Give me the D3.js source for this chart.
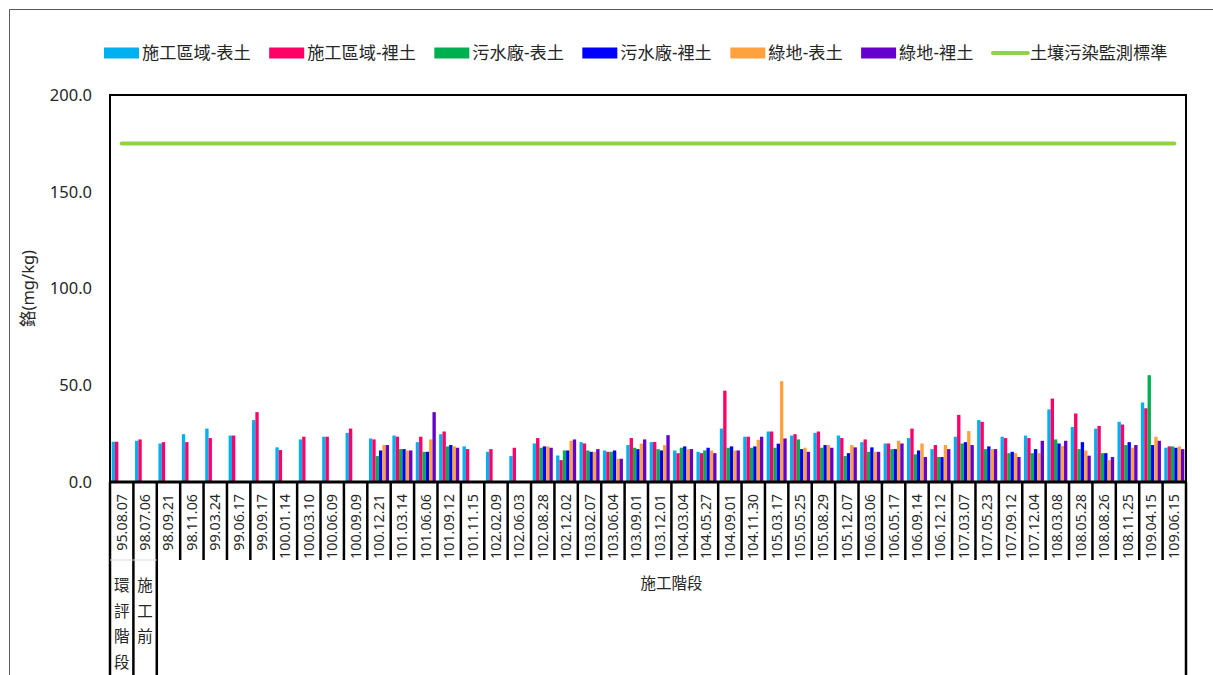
<!DOCTYPE html>
<html>
<head>
<meta charset="utf-8">
<script src="https://cdn.jsdelivr.net/npm/d3@7"></script>
<style>
body{margin:0;background:#fff;}
text{font-family:"Noto Sans","Noto Sans CJK TC",sans-serif;fill:#262626;}
</style>
</head>
<body>
<div id="canva"></div>
<script>
// sample dates (ROC calendar)
var dates = ["95.08.07","98.07.06","98.09.21","98.11.06","99.03.24","99.06.17","99.09.17","100.01.14",
  "100.03.10","100.06.09","100.09.09","100.12.21","101.03.14","101.06.06","101.09.12","101.11.15",
  "102.02.09","102.06.03","102.08.28","102.12.02","103.02.07","103.06.04","103.09.01","103.12.01",
  "104.03.04","104.05.27","104.09.01","104.11.30","105.03.17","105.05.25","105.08.29","105.12.07",
  "106.03.06","106.05.17","106.09.14","106.12.12","107.03.07","107.05.23","107.09.12","107.12.04",
  "108.03.08","108.05.28","108.08.26","108.11.25","109.04.15","109.06.15"];

var seriesNames = ["施工區域-表土","施工區域-裡土","污水廠-表土","污水廠-裡土","綠地-表土","綠地-裡土"];
var lineName = "土壤污染監測標準";

var workTop = [20.8,21.3,19.9,24.7,27.6,24.0,32.0,17.9,22.0,23.4,25.4,22.5,24.0,20.6,24.7,18.4,
  15.6,13.4,19.9,13.7,20.6,16.3,19.1,20.6,16.3,15.6,27.6,23.4,26.1,24.0,25.4,24.0,
  20.6,19.9,22.7,17.0,23.4,32.0,23.4,24.0,37.5,28.4,27.6,31.1,41.1,17.7];
var workSub = [20.8,22.0,20.6,20.6,22.7,24.0,36.1,16.5,23.4,23.4,27.6,22.0,23.4,23.4,26.1,17.0,
  17.0,17.7,22.7,11.3,19.9,15.6,22.7,20.7,14.9,14.9,47.2,23.4,26.1,24.7,26.1,22.7,
  22.0,19.9,27.6,19.1,34.7,31.1,22.7,22.7,43.1,35.4,29.0,29.7,38.1,18.4];
var plantTop = [null,null,null,null,null,null,null,null,null,null,null,13.4,17.0,15.6,18.4,null,
  null,null,17.7,16.3,16.3,15.6,17.7,17.0,17.7,16.3,17.7,17.7,17.7,22.0,17.7,13.4,
  15.6,17.0,14.3,12.9,19.9,17.0,14.9,14.9,22.0,17.0,14.9,19.1,55.2,18.4];
var plantSub = [null,null,null,null,null,null,null,null,null,null,null,16.3,17.0,15.6,19.1,null,
  null,null,18.4,16.3,15.6,16.3,17.0,16.3,18.4,17.7,18.4,18.4,19.8,17.0,19.1,14.9,
  17.9,17.0,16.3,12.9,20.6,18.4,15.6,17.0,19.9,20.6,14.9,20.6,19.1,17.7];
var greenTop = [null,null,null,null,null,null,null,null,null,null,null,19.1,16.3,22.0,18.4,null,
  null,null,18.4,21.3,15.6,12.0,19.9,19.1,17.0,16.3,16.3,21.8,52.1,17.7,19.1,19.1,
  15.6,21.3,19.9,19.1,26.3,17.0,14.9,14.9,18.6,16.3,11.3,17.7,23.4,18.4];
var greenSub = [null,null,null,null,null,null,null,null,null,null,null,19.1,16.3,36.1,17.7,null,
  null,null,17.7,22.0,17.0,12.0,22.0,24.2,17.0,14.9,16.3,23.4,22.5,15.6,17.7,17.9,
  15.6,19.9,12.9,17.0,19.1,17.0,12.9,21.3,21.3,13.6,12.9,19.1,21.3,17.0];

var standard = 175;
var yTicks = [0,50,100,150,200];
var groupNames = ["環評階段","施工前","施工階段"];
var groupSizes = [1,1,44];

var colors = ["#00B0F0","#FF0066","#00B050","#0000FF","#FFA23D","#6600CC"];
var lineColor = "#92D050";

var allSeries = [workTop,workSub,plantTop,plantSub,greenTop,greenSub];

var chart = function(){
  var W = 1213, H = 675;
  var pLeft = 110, pRight = 1186, pTop = 95, pBottom = 482;

  var svg = d3.select("#canva").append("svg")
    .attr("width",W).attr("height",H);

  // outer chart frame (cut off by the picture edge)
  svg.append("path")
    .attr("d","M9.5,"+(H+5)+" V9.5 H"+(W+5))
    .attr("fill","none").attr("stroke","#595959").attr("stroke-width",1);

  var x0 = d3.scaleBand().domain(dates).range([pLeft,pRight]);
  var x1 = d3.scaleBand().domain(d3.range(6)).range([0,x0.bandwidth()])
    .paddingInner(0).paddingOuter(0.5);
  var y = d3.scaleLinear().domain([0,200]).range([pBottom,pTop]);

  // bars
  allSeries.forEach(function(vals,si){
    svg.append("g").selectAll("rect")
      .data(vals.map(function(v,i){return {v:v,c:dates[i]};}).filter(function(d){return d.v!=null;}))
      .enter().append("rect")
      .attr("x",function(d){return x0(d.c)+x1(si);})
      .attr("width",x1.bandwidth())
      .attr("y",function(d){return y(d.v);})
      .attr("height",function(d){return y(0)-y(d.v);})
      .attr("fill",colors[si]);
  });

  // standard line
  svg.append("line")
    .attr("x1",x0(dates[0])+x0.bandwidth()/2)
    .attr("x2",x0(dates[dates.length-1])+x0.bandwidth()/2)
    .attr("y1",y(standard)).attr("y2",y(standard))
    .attr("stroke",lineColor).attr("stroke-width",4).attr("stroke-linecap","round");

  // plot frame
  svg.append("rect")
    .attr("x",pLeft).attr("y",pTop).attr("width",pRight-pLeft).attr("height",pBottom-pTop)
    .attr("fill","none").attr("stroke","#000").attr("stroke-width",2);
  svg.append("line").attr("x1",pLeft).attr("x2",pRight).attr("y1",pBottom).attr("y2",pBottom)
    .attr("stroke","#000").attr("stroke-width",3);

  // y axis labels
  svg.append("g").selectAll("text").data(yTicks).enter().append("text")
    .attr("x",92).attr("y",function(d){return y(d);}).attr("dy","0.36em")
    .attr("text-anchor","end").style("font-size","16.5px")
    .text(function(d){return d3.format(".1f")(d);});

  svg.append("text")
    .attr("transform","translate(34,"+((pTop+pBottom)/2)+") rotate(-90)")
    .attr("text-anchor","middle").style("font-size","16.5px")
    .text("鉻(mg/kg)");

  // category boundaries
  var bounds = dates.map(function(d){return x0(d);}).concat([pRight]);
  var groupEdges = [0];
  groupSizes.forEach(function(n,i){groupEdges.push(groupEdges[i]+n);});

  svg.append("g").selectAll("line").data(bounds).enter().append("line")
    .attr("x1",function(d){return d;}).attr("x2",function(d){return d;})
    .attr("y1",pBottom)
    .attr("y2",function(d,i){return groupEdges.indexOf(i)>=0 ? H+5 : 560;})
    .attr("stroke","#000").attr("stroke-width",2.5);

  svg.append("line").attr("x1",pLeft).attr("x2",x0(dates[2]))
    .attr("y1",560).attr("y2",560).attr("stroke","#d9d9d9").attr("stroke-width",1);

  // date labels
  svg.append("g").selectAll("text").data(dates).enter().append("text")
    .attr("transform",function(d){return "translate("+(x0(d)+x0.bandwidth()/2)+",494) rotate(-90)";})
    .attr("dy","0.35em").attr("text-anchor","end").style("font-size","14.3px")
    .text(function(d){return d;});

  // group labels
  groupNames.forEach(function(g,i){
    var a = bounds[groupEdges[i]], b = bounds[groupEdges[i+1]];
    var cx = (a+b)/2;
    if (groupSizes[i]==1){
      var t = svg.append("text").attr("text-anchor","middle").style("font-size","15.5px");
      g.split("").forEach(function(ch,k){
        t.append("tspan").attr("x",cx).attr("y",591+k*25.5).text(ch);
      });
    } else {
      svg.append("text").attr("x",cx).attr("y",589).attr("text-anchor","middle")
        .style("font-size","15.5px").text(g);
    }
  });

  // legend
  var lg = svg.append("g");
  var lx = 104, ly = 53;
  seriesNames.concat([lineName]).forEach(function(n,i){
    if (i<6){
      lg.append("rect").attr("x",lx).attr("y",ly-5.5).attr("width",35).attr("height",11)
        .attr("fill",colors[i]);
    } else {
      lg.append("line").attr("x1",lx+1).attr("x2",lx+36).attr("y1",ly).attr("y2",ly)
        .attr("stroke",lineColor).attr("stroke-width",4).attr("stroke-linecap","round");
    }
    var t = lg.append("text").attr("x",lx+38).attr("y",ly).attr("dy","0.36em")
      .style("font-size","17.2px").text(n);
    lx = lx + 38 + t.node().getComputedTextLength() + 18.5;
  });
};

chart();
</script>
</body>
</html>
